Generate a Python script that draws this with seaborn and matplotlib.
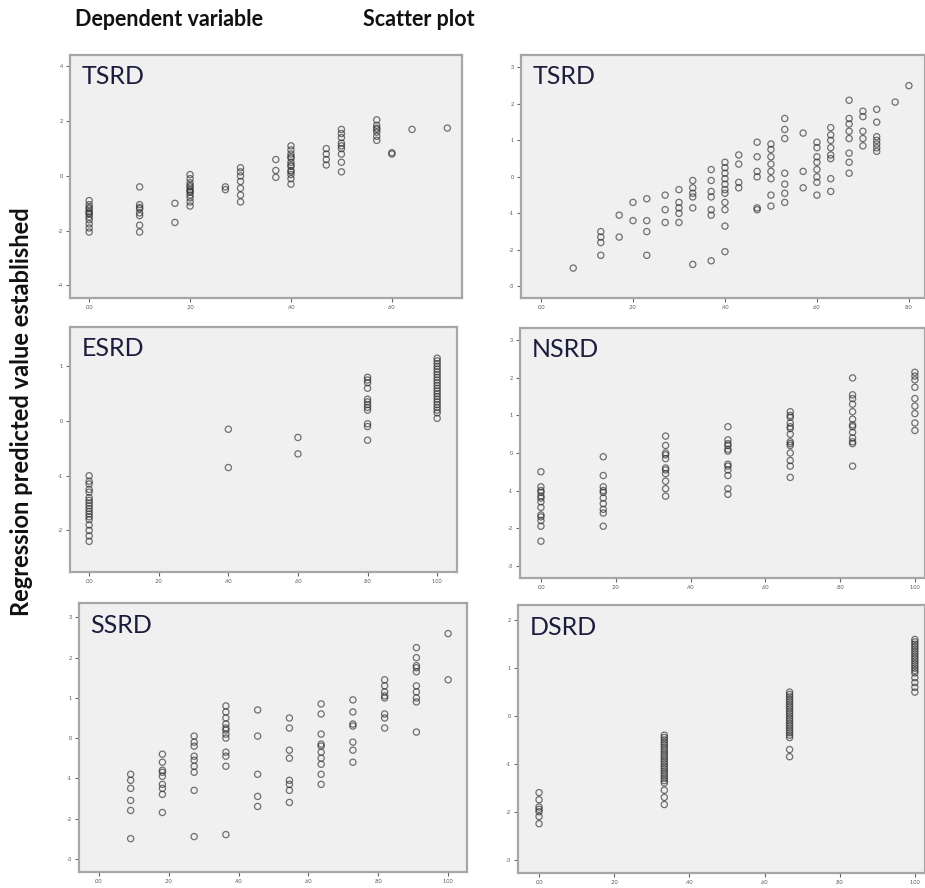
import numpy as np
import matplotlib
matplotlib.use("Agg")
import matplotlib.pyplot as plt
import pandas as pd
import seaborn as sns

# data: x column -> list of y values
tsrd_dep_x = [0.0, 0.10, 0.17, 0.20, 0.27, 0.30, 0.37, 0.40, 0.47, 0.50, 0.57, 0.60, 0.64, 0.71]
tsrd_dep_y = [
    [-0.9, -1.05, -1.15, -1.2, -1.3, -1.35, -1.4, -1.5, -1.6, -1.75, -1.9, -2.05],
    [-0.4, -1.05, -1.15, -1.2, -1.35, -1.45, -1.8, -2.05],
    [-1.0, -1.7],
    [0.05, -0.1, -0.25, -0.35, -0.4, -0.5, -0.55, -0.6, -0.7, -0.8, -0.95, -1.1],
    [-0.4, -0.5],
    [0.3, 0.15, 0.0, -0.2, -0.45, -0.7, -0.95],
    [0.6, 0.2, -0.05],
    [1.1, 0.95, 0.8, 0.7, 0.65, 0.5, 0.4, 0.35, 0.2, 0.15, 0.05, -0.1, -0.3],
    [1.0, 0.8, 0.6, 0.4],
    [1.7, 1.55, 1.4, 1.2, 1.1, 1.0, 0.8, 0.5, 0.15],
    [2.05, 1.85, 1.75, 1.7, 1.6, 1.45, 1.3],
    [0.85, 0.8],
    [1.7],
    [1.75],
]

tsrd_sc_x = [0.07, 0.13, 0.17, 0.20, 0.23, 0.27, 0.30, 0.33, 0.37, 0.40, 0.43, 0.47,
             0.50, 0.53, 0.57, 0.60, 0.63, 0.67, 0.70, 0.73, 0.77, 0.80]
tsrd_sc_y = [
    [-2.5],
    [-1.5, -1.65, -1.8, -2.15],
    [-1.05, -1.65],
    [-0.7, -1.2],
    [-0.6, -1.2, -1.5, -2.15],
    [-0.5, -0.9, -1.25],
    [-0.35, -0.7, -0.85, -1.0, -1.25],
    [-0.1, -0.3, -0.45, -0.55, -0.85, -2.4],
    [0.2, -0.1, -0.4, -0.55, -0.9, -1.05, -2.3],
    [0.4, 0.25, 0.1, -0.05, -0.2, -0.35, -0.45, -0.7, -0.9, -1.35, -2.05],
    [0.6, 0.35, -0.15, -0.3],
    [0.95, 0.55, 0.15, 0.0, -0.85, -0.9],
    [0.9, 0.75, 0.55, 0.35, 0.15, -0.05, -0.5, -0.8],
    [1.6, 1.3, 1.05, 0.1, -0.2, -0.45, -0.7],
    [1.2, 0.15, -0.3],
    [0.95, 0.8, 0.55, 0.4, 0.2, 0.0, -0.15, -0.5],
    [1.35, 1.15, 1.0, 0.8, 0.6, 0.5, -0.05, -0.4],
    [2.1, 1.6, 1.45, 1.25, 1.05, 0.65, 0.4, 0.1],
    [1.8, 1.65, 1.25, 1.05, 0.85],
    [1.85, 1.5, 1.1, 1.0, 0.9, 0.8, 0.7],
    [2.05],
    [2.5],
]

esrd_x = [0.0, 0.4, 0.6, 0.8, 1.0]
esrd_y = [
    [-1.0, -1.1, -1.15, -1.25, -1.3, -1.4, -1.45, -1.5, -1.55, -1.6, -1.65, -1.7,
     -1.75, -1.8, -1.9, -2.0, -2.1, -2.2],
    [-0.15, -0.85],
    [-0.3, -0.6],
    [0.8, 0.75, 0.7, 0.6, 0.4, 0.35, 0.3, 0.25, 0.2, -0.05, -0.1, -0.35],
    [1.15, 1.1, 1.05, 1.0, 0.95, 0.9, 0.85, 0.8, 0.75, 0.7, 0.65, 0.6, 0.55, 0.5,
     0.45, 0.4, 0.35, 0.3, 0.25, 0.2, 0.15, 0.05],
]

nsrd_x = [0.0, 1 / 6, 1 / 3, 0.5, 2 / 3, 5 / 6, 1.0]
nsrd_y = [
    [-0.5, -0.9, -1.0, -1.05, -1.15, -1.2, -1.3, -1.45, -1.65, -1.7, -1.8, -1.95, -2.35],
    [-0.1, -0.6, -0.9, -1.0, -1.05, -1.2, -1.35, -1.5, -1.6, -1.95],
    [0.45, 0.2, 0.0, -0.05, -0.15, -0.4, -0.45, -0.55, -0.75, -0.95, -1.15],
    [0.7, 0.35, 0.25, 0.2, 0.1, 0.05, -0.3, -0.35, -0.45, -0.6, -0.95, -1.1],
    [1.1, 1.0, 0.95, 0.8, 0.7, 0.65, 0.5, 0.3, 0.25, 0.2, 0.0, -0.2, -0.35, -0.65],
    [2.0, 1.55, 1.45, 1.3, 1.1, 0.9, 0.75, 0.7, 0.55, 0.4, 0.3, 0.25, -0.35],
    [2.15, 2.05, 1.95, 1.75, 1.45, 1.25, 1.05, 0.8, 0.6],
]

ssrd_x = [1 / 11, 2 / 11, 3 / 11, 4 / 11, 5 / 11, 6 / 11, 7 / 11, 8 / 11, 9 / 11, 10 / 11, 1.0]
ssrd_y = [
    [-0.9, -1.05, -1.25, -1.55, -1.8, -2.5],
    [-0.4, -0.6, -0.8, -0.85, -0.95, -1.15, -1.25, -1.4, -1.85],
    [0.05, -0.1, -0.2, -0.45, -0.55, -0.7, -0.85, -1.3, -2.45],
    [0.8, 0.65, 0.5, 0.35, 0.25, 0.2, 0.1, 0.0, -0.35, -0.45, -0.7, -2.4],
    [0.7, 0.05, -0.9, -1.45, -1.7],
    [0.5, 0.25, -0.3, -0.5, -1.05, -1.15, -1.3, -1.6],
    [0.85, 0.6, 0.1, -0.15, -0.2, -0.35, -0.5, -0.65, -0.9, -1.15],
    [0.95, 0.65, 0.35, 0.3, -0.1, -0.3, -0.6],
    [1.45, 1.3, 1.15, 1.05, 1.0, 0.6, 0.5, 0.25],
    [2.25, 2.0, 1.8, 1.75, 1.65, 1.3, 1.15, 1.0, 0.9, 0.15],
    [2.6, 1.45],
]

dsrd_x = [0.0, 1 / 3, 2 / 3, 1.0]
dsrd_y = [
    [-1.6, -1.75, -1.9, -1.95, -2.0, -2.1, -2.25],
    [-0.4, -0.45, -0.5, -0.55, -0.6, -0.65, -0.7, -0.75, -0.8, -0.85, -0.9, -0.95, -1.0,
     -1.05, -1.1, -1.15, -1.2, -1.25, -1.3, -1.35, -1.4, -1.55, -1.7, -1.85],
    [0.5, 0.45, 0.4, 0.35, 0.3, 0.25, 0.2, 0.15, 0.1, 0.05, 0.0, -0.05, -0.1, -0.15,
     -0.2, -0.25, -0.3, -0.35, -0.4, -0.45, -0.7, -0.85],
    [1.6, 1.55, 1.5, 1.45, 1.4, 1.35, 1.3, 1.25, 1.2, 1.15, 1.1, 1.05, 1.0, 0.95, 0.9,
     0.8, 0.7, 0.6, 0.5],
]


def to_frame(xs, ys):
    rows = [(x, y) for x, col in zip(xs, ys) for y in col]
    return pd.DataFrame(rows, columns=["x", "y"])


W, H = 925, 888
# (name, data, pixel box left/top/right/bottom, xlim, ylim, xticks, yticks)
panels = [
    ("TSRD", to_frame(tsrd_dep_x, tsrd_dep_y), (70, 55, 462, 298), (-0.038, 0.739), (-4.46, 4.42),
     [0, 0.2, 0.4, 0.6], [-4, -2, 0, 2, 4]),
    ("TSRD", to_frame(tsrd_sc_x, tsrd_sc_y), (521, 55, 925, 298), (-0.0435, 0.835), (-3.32, 3.34),
     [0, 0.2, 0.4, 0.6, 0.8], [-3, -2, -1, 0, 1, 2, 3]),
    ("ESRD", to_frame(esrd_x, esrd_y), (70, 327, 457, 572), (-0.055, 1.057), (-2.76, 1.72),
     [0, 0.2, 0.4, 0.6, 0.8, 1.0], [-2, -1, 0, 1]),
    ("NSRD", to_frame(nsrd_x, nsrd_y), (520, 328, 925, 578), (-0.056, 1.027), (-3.33, 3.33),
     [0, 0.2, 0.4, 0.6, 0.8, 1.0], [-3, -2, -1, 0, 1, 2, 3]),
    ("SSRD", to_frame(ssrd_x, ssrd_y), (79, 603, 467, 872), (-0.057, 1.054), (-3.33, 3.36),
     [0, 0.2, 0.4, 0.6, 0.8, 1.0], [-3, -2, -1, 0, 1, 2, 3]),
    ("DSRD", to_frame(dsrd_x, dsrd_y), (518, 605, 925, 873), (-0.056, 1.027), (-3.28, 2.32),
     [0, 0.2, 0.4, 0.6, 0.8, 1.0], [-3, -2, -1, 0, 1, 2]),
]

sns.set_style("white")
plt.rcParams["font.family"] = ["Lato", "DejaVu Sans"]

fig = plt.figure(figsize=(W / 100, H / 100), dpi=100)

for name, df, (l, t, r, b), xlim, ylim, xt, yt in panels:
    ax = fig.add_axes([l / W, 1 - b / H, (r - l) / W, (b - t) / H])
    ax.set_facecolor("#f0f0f0")
    sns.scatterplot(data=df, x="x", y="y", ax=ax, marker="o", s=20,
                    linewidth=0.9, alpha=0.65, legend=False)
    for coll in ax.collections:
        coll.set_facecolor("none")
        coll.set_edgecolor("#2a2a2a")
    ax.set_xlim(*xlim)
    ax.set_ylim(*ylim)
    ax.set_xticks(xt)
    ax.set_xticklabels([f"{v:.2f}".lstrip("0") if v < 1 else f"{v:.2f}" for v in xt])
    ax.set_yticks(yt)
    ax.set_yticklabels([str(v) for v in yt])
    ax.tick_params(axis="both", direction="out", length=3, width=0.8, color="#666666",
                   labelsize=4, labelcolor="#555555", pad=2,
                   bottom=True, left=True)
    ax.set_xlabel("")
    ax.set_ylabel("")
    for sp in ax.spines.values():
        sp.set_color("#a6a6a6")
        sp.set_linewidth(1.6)
    ax.text(0.03, 0.96, name, transform=ax.transAxes, ha="left", va="top",
            fontsize=18, color="#1c1c3c")

fig.text(75 / W, 1 - 20 / H, "Dependent variable", ha="left", va="center",
         fontsize=15.5, fontweight="bold", color="#111111")
fig.text(363 / W, 1 - 20 / H, "Scatter plot", ha="left", va="center",
         fontsize=15.5, fontweight="bold", color="#111111")
fig.text(22 / W, 1 - 412 / H, "Regression predicted value established", rotation=90,
         ha="center", va="center", fontsize=17, fontweight="bold", color="#111111")

fig.savefig("out.png", dpi=100)
